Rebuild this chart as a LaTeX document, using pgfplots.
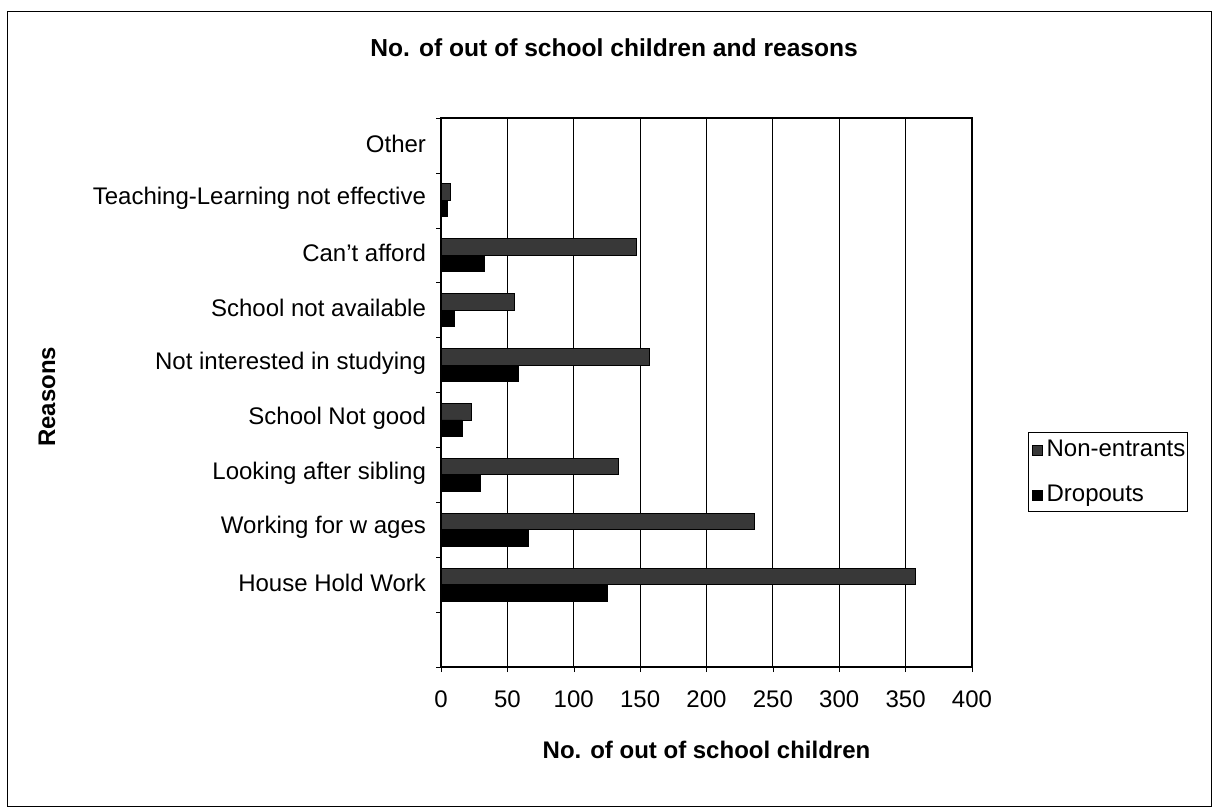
\documentclass[border=0pt]{standalone}
\usepackage{fontspec}
\setmainfont{Liberation Sans}
\usepackage{pgfplots}
\pgfplotsset{compat=1.18}

% Reasons are listed bottom to top; y = 0 is an empty slot under the last reason
\pgfplotstableread{
y  nonentrants dropouts
1  357  125
2  236  66
3  134  30
4  23   16
5  157  58
6  55   10
7  147  33
8  7    5
9  0    0
}\reasons

\begin{document}
\begin{tikzpicture}
\path[use as bounding box] (0,0) rectangle (606.5pt,404pt);
% outer chart frame
\draw[black, line width=0.5pt] (3.5pt,398pt) rectangle (605.5pt,1pt);

\begin{axis}[
  at={(220.5pt,70.5pt)}, anchor=south west,
  scale only axis,
  width=265.5pt, height=274.5pt,
  xbar, bar width=0.3,
  xmin=0, xmax=400,
  ymin=-0.5, ymax=9.5,
  xtick={0,50,...,400},
  ytick={-0.5,0.5,...,9.5},
  yticklabels={},
  extra y ticks={1,...,9},
  extra y tick labels={House Hold Work,Working for w ages,Looking after sibling,School Not good,Not interested in studying,School not available,Can't afford,Teaching-Learning not effective,Other},
  extra y tick style={tick style={draw=none}},
  major tick length=2.5pt,
  tick style={black},
  tick align=outside,
  tick pos=left,
  xmajorgrids,
  major grid style={black, line width=0.6pt},
  axis line style={black, line width=0.8pt},
  font=\fontsize{12}{14}\selectfont,
  /pgf/number format/assume math mode=true,
  ticklabel style={font=\fontsize{12}{14}\selectfont},
  xticklabel style={yshift=-6pt},
  yticklabel style={xshift=-1.5pt, yshift=1pt},
  title={\bfseries No. of out of school children and reasons},
  title style={at={(0.326,1.107)}, anchor=center, font=\fontsize{12.3}{14}\selectfont},
  xlabel={\bfseries No. of out of school children},
  xlabel style={at={(0.5,-0.151)}, anchor=center, font=\fontsize{12}{14}\selectfont},
  ylabel={\bfseries Reasons},
  ylabel style={at={(-0.742,0.492)}, anchor=center, rotate=0, font=\fontsize{12}{14}\selectfont},
  legend style={at={(1.1055,0.428)}, anchor=north west, draw=black, line width=0.6pt,
    font=\fontsize{12}{14}\selectfont, inner xsep=0.5pt, inner ysep=3pt, row sep=12pt,
    nodes={inner sep=0.5pt}},
  legend cell align=left,
]
\addplot[fill=black!78, draw=black, line width=0.4pt, bar shift=0.15,
  legend image code/.code={\path[draw=none, fill=none] (0pt,0pt) -- (8pt,0pt);
    \draw[fill=black!78, draw=black] (1.5pt,-3pt) rectangle (6.5pt,2pt);}]
  table[x=nonentrants, y=y] {\reasons};
\addlegendentry{Non-entrants}
\addplot[fill=black, draw=black, line width=0.4pt, bar shift=-0.15,
  legend image code/.code={\path[draw=none, fill=none] (0pt,0pt) -- (8pt,0pt);
    \draw[fill=black, draw=black] (1.5pt,-3pt) rectangle (6.5pt,2pt);}]
  table[x=dropouts, y=y] {\reasons};
\addlegendentry{Dropouts}
\end{axis}
\end{tikzpicture}
\end{document}
